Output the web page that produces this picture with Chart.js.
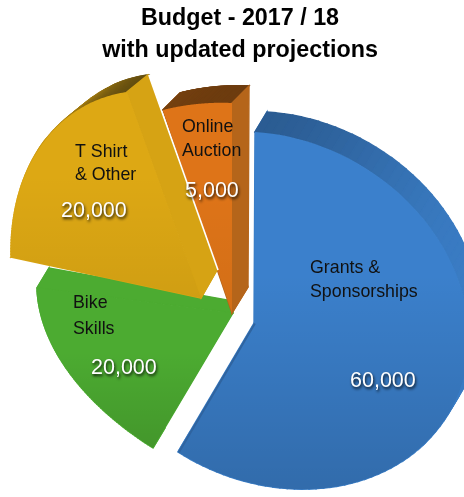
<!DOCTYPE html>
<html>
<head>
<meta charset="utf-8">
<style>html,body{margin:0;padding:0;background:#fff}canvas{display:block}</style>
<script src="https://cdn.jsdelivr.net/npm/chart.js@4"></script>
</head>
<body>
<canvas id="c" width="464" height="497"></canvas>
<script>
const titleLines = ['Budget - 2017 / 18', 'with updated projections'];
const categories = ['Grants & Sponsorships', 'Bike Skills', 'T Shirt & Other', 'Online Auction'];
const values = [60000, 20000, 20000, 5000];
const nameLines = [['Grants &', 'Sponsorships'], ['Bike', 'Skills'], ['T Shirt', '& Other'], ['Online', 'Auction']];
const faceColors = ['#3b80cc', '#4cab31', '#dda814', '#de7418'];

// Perspective calibration of each exploded wedge: model angle (deg, clockwise from top) -> page point
const tilt = [
  { c: [254, 323], rim: [[0, 255, 132], [76, 466, 308], [205.7, 178, 452]], apexVec: [16, -24], rimVec: [12, -20], dark: '#2b5c92', side: '#3a7cc4', shade: .16, inner: '#2f64a0' },
  { c: [233, 313], rim: [[205.7, 153, 448], [240, 66, 368], [274.3, 37, 288]], apexVec: [-5, -13], rimVec: [12, -20], dark: '#4cab31', side: '#4cab31', shade: .12 },
  { c: [201, 298], rim: [[274.3, 11, 257], [308.6, 43, 143], [342.9, 127, 92]], apexVec: [16, -28], rimVec: [21, -17], dark: '#5f4a10', side: '#d8a414', shade: .06, edge: true },
  { c: [232, 313], rim: [[342.9, 163, 110], [351.4, 197, 104], [360, 232, 103]], apexVec: [16, -26], rimVec: [17, -17], dark: '#6e3d10', side: '#b5651a', shade: .05 }
];
const drawOrder = [0, 1, 3, 2];
const labelSpots = [
  { x: 310, name: [273, 297], vx: 350, vy: 387 },
  { x: 73, name: [308, 334], vx: 91, vy: 374 },
  { x: 75, name: [157, 180], vx: 61, vy: 217 },
  { x: 182, name: [132, 156], vx: 185, vy: 197 }
];

function solve(A, b) {
  const n = b.length, M = A.map((r, i) => [...r, b[i]]);
  for (let i = 0; i < n; i++) {
    let p = i;
    for (let k = i + 1; k < n; k++) if (Math.abs(M[k][i]) > Math.abs(M[p][i])) p = k;
    [M[i], M[p]] = [M[p], M[i]];
    for (let k = 0; k < n; k++) {
      if (k === i) continue;
      const f = M[k][i] / M[i][i];
      for (let j = i; j <= n; j++) M[k][j] -= f * M[i][j];
    }
  }
  return M.map((r, i) => r[n] / r[i]);
}
const unit = a => [Math.sin(a), -Math.cos(a)];
function homography(t) {
  const pairs = [[[0, 0], t.c]].concat(t.rim.map(r => [unit(r[0] * Math.PI / 180), [r[1], r[2]]]));
  const A = [], b = [];
  pairs.forEach(([s, d]) => {
    A.push([s[0], s[1], 1, 0, 0, 0, -s[0] * d[0], -s[1] * d[0]]); b.push(d[0]);
    A.push([0, 0, 0, s[0], s[1], 1, -s[0] * d[1], -s[1] * d[1]]); b.push(d[1]);
  });
  const h = solve(A, b);
  return ([x, y]) => {
    const w = h[6] * x + h[7] * y + 1;
    return [(h[0] * x + h[1] * y + h[2]) / w, (h[3] * x + h[4] * y + h[5]) / w];
  };
}
function hex(c) { return [1, 3, 5].map(i => parseInt(c.substr(i, 2), 16)); }
function mix(a, b, t) {
  const x = hex(a), y = hex(b);
  return 'rgb(' + x.map((v, i) => Math.round(v + (y[i] - v) * t)).join(',') + ')';
}

const tiltPlugin = {
  id: 'tilt',
  beforeDatasetDraw(chart) {
    const ctx = chart.ctx, arcs = chart.getDatasetMeta(0).data;
    drawOrder.forEach(i => {
      const arc = arcs[i], t = tilt[i], map = homography(t);
      const a0 = arc.startAngle + Math.PI / 2, a1 = arc.endAngle + Math.PI / 2;
      const steps = 90, rimPts = [];
      for (let s = 0; s <= steps; s++) rimPts.push(map(unit(a0 + (a1 - a0) * s / steps)));
      const apex = map([0, 0]);
      const front = [apex, ...rimPts];
      const back = [[apex[0] + t.apexVec[0], apex[1] + t.apexVec[1]],
        ...rimPts.map(p => [p[0] + t.rimVec[0], p[1] + t.rimVec[1]])];
      // side walls
      for (let k = 0; k < front.length; k++) {
        const n = (k + 1) % front.length;
        const dx = front[n][0] - front[k][0], dy = front[n][1] - front[k][1];
        const len = Math.hypot(dx, dy) || 1, ny = -dx / len;
        const up = Math.max(0, -ny);
        ctx.fillStyle = ctx.strokeStyle = mix(t.side, t.dark, Math.pow(up, 4));
        ctx.lineWidth = 1.4;
        ctx.beginPath();
        ctx.moveTo(...front[k]); ctx.lineTo(...front[n]); ctx.lineTo(...back[n]); ctx.lineTo(...back[k]);
        ctx.closePath(); ctx.fill(); ctx.stroke();
      }
      if (t.edge) {
        ctx.strokeStyle = '#fff'; ctx.lineWidth = 1.6;
        const e = back[back.length - 1];
        ctx.beginPath(); ctx.moveTo(back[0][0] + 1, back[0][1]); ctx.lineTo(e[0] + 1, e[1]); ctx.stroke();
      }
      // front face
      const ys = front.map(p => p[1]);
      const g = ctx.createLinearGradient(0, Math.min(...ys), 0, Math.max(...ys));
      g.addColorStop(0, 'rgba(0,0,0,0)');
      g.addColorStop(.4, 'rgba(0,0,0,0)');
      g.addColorStop(1, 'rgba(0,0,0,' + t.shade + ')');
      const path = new Path2D();
      front.forEach((p, k) => k ? path.lineTo(p[0], p[1]) : path.moveTo(p[0], p[1]));
      path.closePath();
      ctx.fillStyle = arc.options.backgroundColor; ctx.fill(path);
      ctx.fillStyle = g; ctx.fill(path);
      if (t.inner) {
        const e = rimPts[rimPts.length - 1];
        ctx.save(); ctx.clip(path);
        ctx.strokeStyle = t.inner; ctx.lineWidth = 4;
        ctx.beginPath(); ctx.moveTo(...apex); ctx.lineTo(...e); ctx.stroke();
        ctx.restore();
      }
    });
    return false;
  },
  afterDatasetsDraw(chart) {
    const ctx = chart.ctx;
    ctx.save();
    ctx.textAlign = 'left'; ctx.textBaseline = 'alphabetic';
    labelSpots.forEach((s, i) => {
      ctx.font = '17.8px "Liberation Sans"'; ctx.fillStyle = '#111';
      nameLines[i].forEach((line, k) => ctx.fillText(line, s.x, s.name[k]));
      ctx.save();
      ctx.font = '21.5px "Liberation Sans"'; ctx.fillStyle = '#fff';
      ctx.shadowColor = 'rgba(0,0,0,.85)'; ctx.shadowBlur = 3; ctx.shadowOffsetX = 1; ctx.shadowOffsetY = 2;
      ctx.fillText(values[i].toLocaleString('en-US'), s.vx, s.vy);
      ctx.restore();
    });
    ctx.restore();
  }
};

new Chart(document.getElementById('c'), {
  type: 'pie',
  data: { labels: categories, datasets: [{ data: values, backgroundColor: faceColors, borderWidth: 0 }] },
  options: {
    responsive: false, animation: false,
    layout: { padding: { left: 16 } },
    events: [],
    plugins: {
      legend: { display: false }, tooltip: { enabled: false },
      title: {
        display: true, fullSize: false, text: titleLines, color: '#000',
        font: { family: '"Liberation Sans"', size: 23.3, weight: 'bold', lineHeight: 1.37 },
        padding: { top: 3, bottom: 0 }
      }
    }
  },
  plugins: [tiltPlugin]
});
</script>
</body>
</html>
